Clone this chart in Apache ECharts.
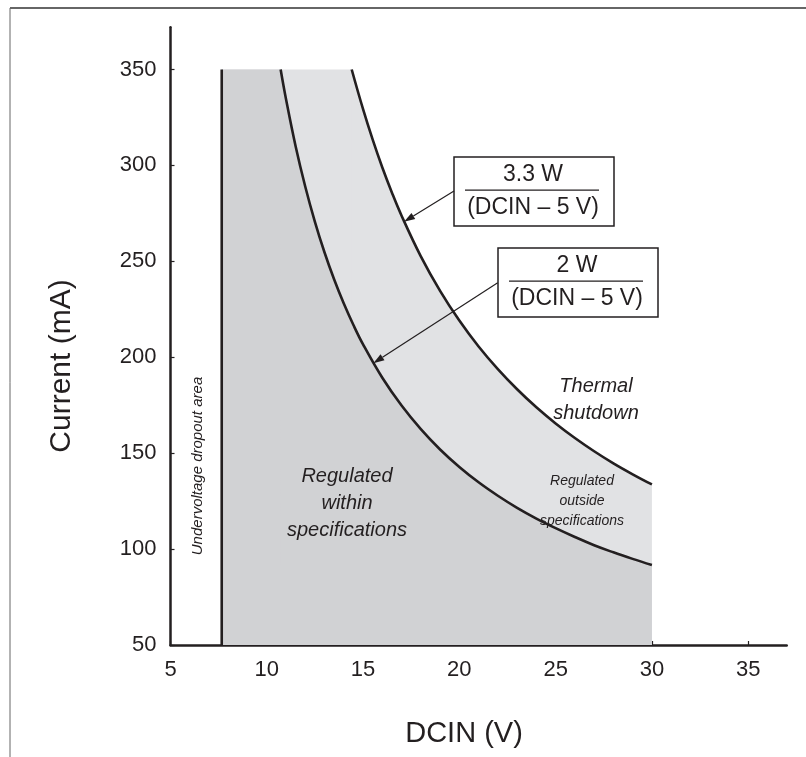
<!DOCTYPE html>
<html><head><meta charset="utf-8">
<script src="https://cdn.jsdelivr.net/npm/echarts@6/dist/echarts.min.js"></script>
<style>html,body{margin:0;padding:0;background:#fff}#c{width:806px;height:757px}</style>
</head><body><div id="c"></div>
<script>
// ---- data ----
const xTickLabels = [5, 10, 15, 20, 25, 30, 35];
const yTickLabels = [50, 100, 150, 200, 250, 300, 350];
const dropoutV = 7.66;          // undervoltage dropout boundary (V)
const currentCap = 350;         // maximum current (mA)
// 2 W / (DCIN - 5 V) boundary: [DCIN (V), current (mA)]
const curve2W = [[10.72,350],[11,334.5],[11.5,309.9],[12,288.9],[12.5,270.6],[13,254.6],[13.5,240.5],[14,228.0],[14.5,216.8],[15,206.7],[16,189.3],[17,174.8],[18,162.5],[19,151.9],[20,142.8],[21,134.8],[22,127.8],[23,121.5],[24,115.9],[25,110.9],[26,106.3],[27,102.0],[28,98.3],[29,94.9],[30,91.7]];
// 3.3 W / (DCIN - 5 V) boundary
const curve33W = [[14.41,350],[15,329.3],[15.5,313.4],[16,298.9],[16.5,285.8],[17,273.8],[18,252.6],[19,234.6],[20,219.1],[21,205.6],[22,193.8],[23,183.3],[24,173.9],[25,165.5],[26,157.9],[27,151.0],[28,144.7],[29,139.0],[30,133.7]];

const INK = '#231f20';
const FONT = '"Liberation Sans", Arial, Helvetica, sans-serif';
const DARK = '#d1d2d4', LIGHT = '#e1e2e4';
const SEAM = 0.06; // small overlap (V) so adjacent fills do not leave a hairline

const darkCap = [[dropoutV, currentCap], [curve2W[0][0] + SEAM, currentCap]];
const lightCap = [[dropoutV, currentCap], [curve33W[0][0] + SEAM, currentCap]];
const dropoutLine = [[dropoutV, 50], [dropoutV, currentCap]];

const chart = echarts.init(document.getElementById('c'), null, {renderer: 'canvas'});

function arrow(x1, y1, x2, y2) {
  const a = Math.atan2(y2 - y1, x2 - x1), L = 11, W = 3.6;
  const c = Math.cos(a), s = Math.sin(a);
  const bx = x2 - L * c, by = y2 - L * s;
  return [
    {type: 'line', shape: {x1: x1, y1: y1, x2: bx, y2: by}, style: {stroke: INK, lineWidth: 1.2}, z: 20},
    {type: 'polygon', shape: {points: [[x2, y2], [bx - W * s, by + W * c], [bx + W * s, by - W * c]]}, style: {fill: INK}, z: 20}
  ];
}
function fracBox(x, y, w, h, top, bottom) {
  const cx = x + w / 2 - 1;
  return [
    {type: 'rect', shape: {x: x, y: y, width: w, height: h}, style: {fill: '#fff', stroke: INK, lineWidth: 1.5}, z: 19},
    {type: 'line', shape: {x1: x + 11, y1: y + h * 0.48, x2: x + w - 15, y2: y + h * 0.48}, style: {stroke: INK, lineWidth: 1.3}, z: 20},
    {type: 'text', x: cx, y: y + h * 0.25, style: {text: top, fontSize: 23, fontFamily: FONT, fill: INK, align: 'center', verticalAlign: 'middle'}, z: 20},
    {type: 'text', x: cx, y: y + h * 0.74, style: {text: bottom, fontSize: 23, fontFamily: FONT, fill: INK, align: 'center', verticalAlign: 'middle'}, z: 20}
  ];
}
function italic(x, y, text, size, lh) {
  return {type: 'text', x: x, y: y, style: {text: text, fontSize: size, lineHeight: lh, fontStyle: 'italic', fontFamily: FONT, fill: INK, align: 'center', verticalAlign: 'middle'}, z: 15};
}

const graphics = [].concat(
  [
    {type: 'line', shape: {x1: 10, y1: 8, x2: 806, y2: 8}, style: {stroke: '#666', lineWidth: 2}},
    {type: 'line', shape: {x1: 10, y1: 8, x2: 10, y2: 757}, style: {stroke: '#666', lineWidth: 1}},
    {type: 'text', x: 464, y: 734, style: {text: 'DCIN (V)', fontSize: 29, fontFamily: FONT, fill: INK, align: 'center', verticalAlign: 'middle'}},
    {type: 'text', x: 62, y: 366, rotation: Math.PI / 2, style: {text: 'Current (mA)', fontSize: 30, fontFamily: FONT, fill: INK, align: 'center', verticalAlign: 'middle'}},
    {type: 'text', x: 198, y: 466, rotation: Math.PI / 2, style: {text: 'Undervoltage dropout area', fontSize: 15, fontStyle: 'italic', fontFamily: FONT, fill: INK, align: 'center', verticalAlign: 'middle'}, z: 15},
    italic(347, 503, 'Regulated\nwithin\nspecifications', 20, 27),
    italic(596, 400, 'Thermal\nshutdown', 20, 27),
    italic(582, 501, 'Regulated\noutside\nspecifications', 14, 20)
  ],
  fracBox(454, 157, 160, 69, '3.3 W', '(DCIN \u2013 5 V)'),
  fracBox(498, 248, 160, 69, '2 W', '(DCIN \u2013 5 V)'),
  arrow(454, 191, 404, 221.7),
  arrow(497.7, 282.7, 373.3, 363.3)
);

function fill(data, color, z, smooth) {
  return {type: 'line', data: data, showSymbol: false, smooth: smooth, lineStyle: {width: 0},
    areaStyle: {color: color, opacity: 1, origin: 'start'}, z: z, silent: true};
}

chart.setOption({
  animation: false,
  grid: {left: 170.5, right: 19.3, top: 27.3, bottom: 112},
  xAxis: {
    type: 'value', min: 5, max: 37, interval: 5,
    axisLine: {lineStyle: {color: INK, width: 2.5}},
    axisTick: {inside: true, length: 4, lineStyle: {color: INK, width: 1.2}},
    axisLabel: {color: INK, fontSize: 22, fontFamily: FONT, margin: 14, showMaxLabel: false,
      formatter: v => xTickLabels.indexOf(v) >= 0 ? String(v) : ''},
    splitLine: {show: false}
  },
  yAxis: {
    type: 'value', min: 50, max: 372, interval: 50,
    axisLine: {show: true, lineStyle: {color: INK, width: 2.5}},
    axisTick: {show: true, inside: true, length: 4, lineStyle: {color: INK, width: 1.2}},
    axisLabel: {color: INK, fontSize: 22, fontFamily: FONT, margin: 14, showMaxLabel: false, padding: [6, 0, 0, 0],
      formatter: v => yTickLabels.indexOf(v) >= 0 ? String(v) : ''},
    splitLine: {show: false}
  },
  series: [
    fill(lightCap, LIGHT, 1, false),
    fill(curve33W, LIGHT, 1, 0.4),
    fill(darkCap, DARK, 2, false),
    fill(curve2W, DARK, 2, 0.4),
    {type: 'line', data: curve2W, showSymbol: false, smooth: 0.4, lineStyle: {color: INK, width: 2.6}, z: 3},
    {type: 'line', data: curve33W, showSymbol: false, smooth: 0.4, lineStyle: {color: INK, width: 2.6}, z: 3},
    {type: 'line', data: dropoutLine, showSymbol: false, lineStyle: {color: INK, width: 2.6}, z: 3}
  ],
  graphic: graphics
});
</script>
</body></html>
